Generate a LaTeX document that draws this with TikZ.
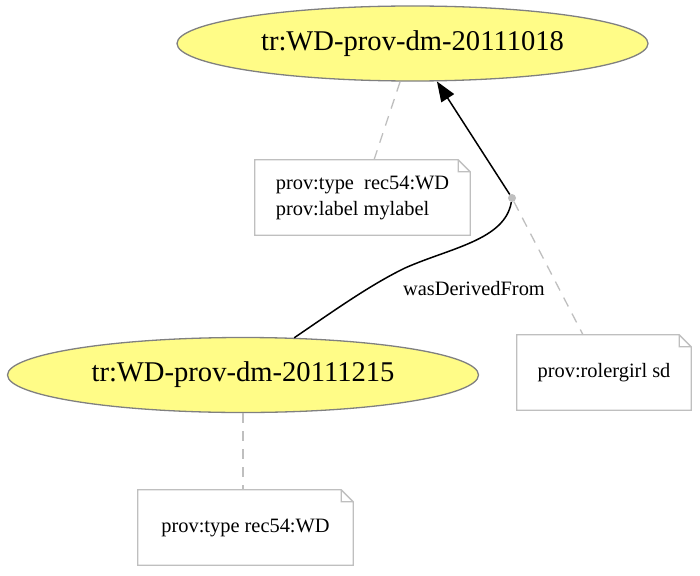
\documentclass[tikz,border=0pt]{standalone}
\usepackage{fontspec}
\setmainfont{Liberation Serif}
\usetikzlibrary{shapes.geometric,arrows.meta}
\definecolor{entfill}{HTML}{FFFC87}
\definecolor{entline}{HTML}{808080}
\definecolor{noteline}{HTML}{BFBFBF}
\tikzset{
  entity/.style={ellipse, draw=entline, line width=1.3pt, fill=entfill, minimum width=471pt, minimum height=75pt, inner sep=0pt, font=\fontsize{28.6}{32}\selectfont},
  notebox/.style={rectangle, inner sep=0pt, minimum height=75pt, font=\fontsize{20.4}{26}\selectfont},
  annot/.style={draw=noteline, line width=1.3pt, dash pattern=on 10pt off 8pt},
  rel/.style={draw=black, line width=1.5pt},
}
\begin{document}
\begin{tikzpicture}[x=1pt,y=-1pt]
\path[use as bounding box, fill=white] (0,0) rectangle (700,575);
\node[entity] (top) at (412.5,43.5) {tr:WD-prov-dm-20111018};
\node[entity] (bot) at (243,375) {tr:WD-prov-dm-20111215};
\node[notebox, minimum width=215pt, align=left] (n1) at (362.5,197.5) {prov:type~ rec54:WD\\prov:label mylabel};
\node[notebox, minimum width=174pt] (n2) at (604,372.5) {prov:rolergirl sd};
\node[notebox, minimum width=215pt] (n3) at (245.5,527.5) {prov:type rec54:WD};
\foreach \n in {n1,n2,n3}
  \draw[noteline, line width=1.3pt] (\n.north west) -- ([xshift=-12pt]\n.north east) -- ([yshift=-12pt]\n.north east) -- (\n.south east) -- (\n.south west) -- cycle
    ([xshift=-12pt]\n.north east) |- ([yshift=-12pt]\n.north east);
\node[circle, fill=noteline, inner sep=0pt, minimum size=8pt] (dot) at (512,198) {};
\coordinate (a1) at (400,82);
\coordinate (mid) at (405,268);
\draw[annot] (a1) -- (n1.north -| 374,0);
\draw[annot] (dot) -- (n2.north -| 583,0);
\draw[annot] (bot.south) -- (n3.north -| bot.south);
\draw[rel, -{Triangle[length=20pt,width=15pt]}] (dot) -- (top);
\draw[rel] (bot.36) .. controls (335,310) and (370,285) .. (mid) .. controls (450,248) and (505,240) .. (dot);
\node[font=\fontsize{20.4}{24}\selectfont] (lbl) at (474,289) {wasDerivedFrom};
\end{tikzpicture}
\end{document}
